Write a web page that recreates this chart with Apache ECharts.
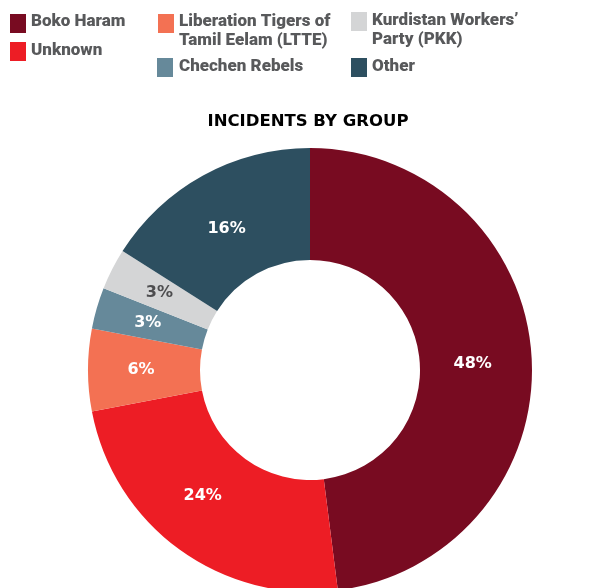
<!DOCTYPE html>
<html>
<head>
<meta charset="utf-8">
<script src="https://cdn.jsdelivr.net/npm/echarts@6/dist/echarts.min.js"></script>
<style>
  html, body { margin: 0; padding: 0; background: #ffffff; }
  #chart { width: 615px; height: 588px; }
</style>
</head>
<body>
<div id="chart"></div>
<script>
// ---- data ----
var groups = ['Boko Haram', 'Unknown', 'Liberation Tigers of\nTamil Eelam (LTTE)', 'Chechen Rebels', 'Kurdistan Workers\u2019\nParty (PKK)', 'Other'];
var shares = [48, 24, 6, 3, 3, 16];
var groupColors = ['#780b21', '#ed1d25', '#f37153', '#66899a', '#d4d5d6', '#2d4f60'];
var labelColors = ['#ffffff', '#ffffff', '#ffffff', '#ffffff', '#4d4d4f', '#ffffff'];
var chartTitle = 'INCIDENTS BY GROUP';

// legend layout (marker left/top, text left/center of first line)
var legendPos = [
  { mx: 10,  my: 14, tx: 31,  ty: 22 },
  { mx: 10,  my: 42, tx: 31,  ty: 51 },
  { mx: 158, my: 14, tx: 179, ty: 22 },
  { mx: 157, my: 58, tx: 179, ty: 67 },
  { mx: 351, my: 12, tx: 372, ty: 21 },
  { mx: 351, my: 58, tx: 372, ty: 67 }
];
// small label nudges (px) to match the reference's label placement
var labelNudge = [[-6, 4], [-8, -11], [0, 0], [0, 0], [0, 0], [-2, 7]];

var chart = echarts.init(document.getElementById('chart'), null, { renderer: 'canvas' });

var graphics = [];
groups.forEach(function (g, i) {
  var p = legendPos[i];
  graphics.push({
    type: 'rect',
    shape: { x: p.mx, y: p.my, width: 16, height: 19 },
    style: { fill: groupColors[i] }
  });
  graphics.push({
    type: 'text',
    x: p.tx,
    y: p.ty - 9.5,
    style: {
      text: g,
      fill: '#58595b',
      fontFamily: 'Roboto',
      fontWeight: 900,
      fontSize: 17,
      lineHeight: 19,
      verticalAlign: 'top',
      align: 'left'
    }
  });
});

var option = {
  backgroundColor: '#ffffff',
  animation: false,
  title: {
    text: chartTitle,
    left: 308,
    top: 113,
    textAlign: 'center',
    padding: 0,
    textStyle: {
      fontFamily: 'DejaVu Sans',
      fontWeight: 'bold',
      fontSize: 16.5,
      color: '#000000'
    }
  },
  graphic: graphics,
  series: [{
    type: 'pie',
    center: [310, 370],
    radius: [110, 222],
    startAngle: 90,
    clockwise: true,
    avoidLabelOverlap: false,
    itemStyle: { borderWidth: 0 },
    emphasis: { disabled: true },
    label: {
      show: true,
      position: 'inside',
      formatter: '{c}%',
      fontFamily: 'DejaVu Sans',
      fontWeight: 'bold',
      fontSize: 16
    },
    labelLine: { show: false },
    data: groups.map(function (g, i) {
      return {
        name: g,
        value: shares[i],
        itemStyle: { color: groupColors[i] },
        label: { color: labelColors[i], offset: labelNudge[i] }
      };
    })
  }]
};
chart.setOption(option);
</script>
</body>
</html>
